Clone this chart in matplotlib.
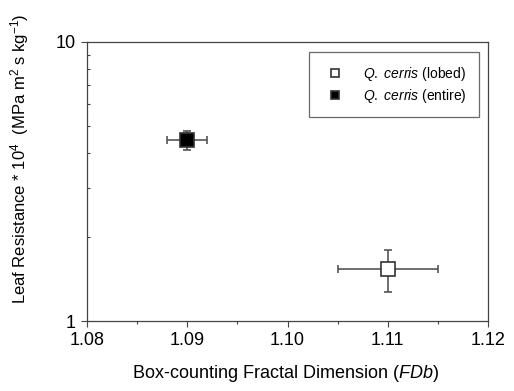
import matplotlib
matplotlib.use("Agg")
import matplotlib.pyplot as plt
from matplotlib.ticker import FixedLocator, NullFormatter, MultipleLocator

plt.rcParams['font.family'] = ['Liberation Sans', 'DejaVu Sans']
plt.rcParams['mathtext.fontset'] = 'custom'
plt.rcParams['mathtext.rm'] = 'Liberation Sans'
plt.rcParams['mathtext.it'] = 'Liberation Sans:italic'
plt.rcParams['mathtext.bf'] = 'Liberation Sans:bold'

labels = ["Q. cerris (lobed)", "Q. cerris (entire)"]
fdb = [1.11, 1.09]
fdb_err = [0.005, 0.002]
resist = [1.54, 4.45]
resist_lo = [1.27, 4.1]
resist_hi = [1.79, 4.8]
faces = ["white", "black"]

fig = plt.figure(figsize=(5.14, 3.91), dpi=100)
ax = fig.add_axes([87/514, 1-321/391, 401/514, 279/391])

handles = []
for i in range(2):
    yerr = [[resist[i]-resist_lo[i]], [resist_hi[i]-resist[i]]]
    ax.errorbar([fdb[i]], [resist[i]], xerr=[fdb_err[i]], yerr=yerr,
                fmt='none', ecolor='#555555', elinewidth=1.2, capsize=3, capthick=1.2, zorder=2)
    h, = ax.plot([fdb[i]], [resist[i]], linestyle='none', marker='s', markersize=9.5,
                 markerfacecolor=faces[i], markeredgecolor='#333333', markeredgewidth=1.2, zorder=3)
    handles.append(h)

ax.set_yscale('log')
ax.set_xlim(1.08, 1.12)
ax.set_ylim(1, 10)
ax.set_xticks([1.08, 1.09, 1.10, 1.11, 1.12])
ax.set_xticklabels(["1.08", "1.09", "1.10", "1.11", "1.12"])
ax.xaxis.set_minor_locator(MultipleLocator(0.005))
ax.yaxis.set_major_locator(FixedLocator([1, 10]))
ax.set_yticklabels(["1", "10"])
ax.yaxis.set_minor_locator(FixedLocator([2, 3, 4, 5, 6, 7, 8, 9]))
ax.yaxis.set_minor_formatter(NullFormatter())
ax.tick_params(axis='both', which='major', direction='out', length=4, width=0.8,
               labelsize=13, color='#444444', pad=4)
ax.tick_params(axis='both', which='minor', direction='out', length=2.5, width=0.8, color='#444444')
ax.tick_params(axis='y', which='minor', direction='in')
for s in ax.spines.values():
    s.set_color('#444444')
    s.set_linewidth(0.9)

ax.set_xlabel("Box-counting Fractal Dimension ($\\it{FDb}$)", fontsize=13)
ax.xaxis.set_label_coords(0.496, -0.15)
ax.set_ylabel("Leaf Resistance * 10$^{4}$  (MPa m$^{2}$ s kg$^{-1}$)", fontsize=12)
ax.yaxis.set_label_coords(-0.14, 0.58)

leg_labels = ["$\\it{Q.\\ cerris}$ (lobed)", "$\\it{Q.\\ cerris}$ (entire)"]
leg = ax.legend(handles, leg_labels, loc='upper right', fontsize=10, frameon=True,
                fancybox=False, edgecolor='#444444', borderpad=0.9, handletextpad=1.0,
                markerscale=0.6, bbox_to_anchor=(0.978, 0.964), borderaxespad=0,
                labelspacing=0.3)
leg.get_frame().set_linewidth(0.9)

fig.savefig("out.png", dpi=100)
